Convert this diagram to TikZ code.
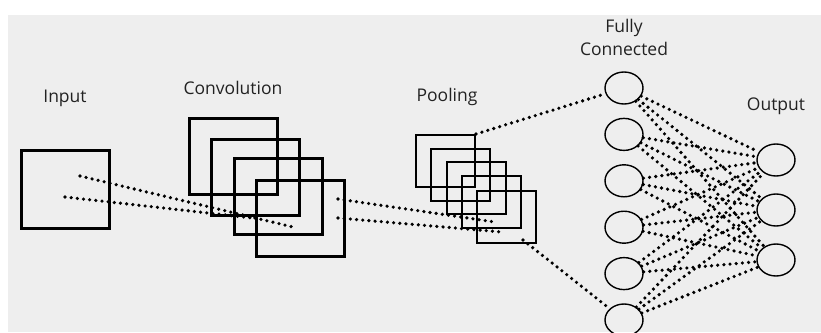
\documentclass[tikz,border=0pt]{standalone}
\usepackage{fontspec}
\setmainfont{Open Sans}
\usetikzlibrary{shapes.geometric}
\definecolor{bggray}{HTML}{EEEEEE}
\definecolor{txtgray}{HTML}{222222}
\tikzset{
  lbl/.style={text=txtgray, font=\fontsize{17.5}{23}\selectfont, inner sep=0pt, align=center},
  convbox/.style={draw, line width=3pt, minimum width=88pt, minimum height=76pt, inner sep=0pt},
  inbox/.style={draw, line width=3pt, minimum width=88pt, minimum height=78pt, inner sep=0pt},
  poolbox/.style={draw, line width=2pt, minimum width=59pt, minimum height=52pt, inner sep=0pt},
  neuron/.style={draw, ellipse, line width=1.4pt, minimum width=38pt, minimum height=32pt, inner sep=0pt},
  dots/.style={line width=3.6pt, line cap=round, dash pattern=on 0pt off 6.2pt}
}
\begin{document}
\begin{tikzpicture}[x=1pt,y=-1pt]
\useasboundingbox (0,0) rectangle (821,332);
\fill[bggray] (8,15) rectangle (821,332);
% labels
\node[lbl] (linput) at (65,98) {Input};
\node[lbl] (lconv) at (233,88) {Convolution};
\node[lbl] (lpool) at (447,97) {Pooling};
\node[lbl] (lfc) at (624,37) {Fully\\Connected};
\node[lbl] (lout) at (776,106) {Output};
% input
\node[inbox] (in) at (65,189) {};
% convolution boxes
\node[convbox] (c1) at (233,156) {};
\node[convbox] (c2) at (255,177.5) {};
\node[convbox] (c3) at (278,196.5) {};
\node[convbox] (c4) at (300.5,218.5) {};
% pooling boxes
\node[poolbox] (p1) at (445.5,161) {};
\node[poolbox] (p2) at (460.5,175) {};
\node[poolbox] (p3) at (476,187.5) {};
\node[poolbox] (p4) at (491.5,202) {};
\node[poolbox] (p5) at (506.5,217) {};
% coordinates for free ends
\coordinate (a1) at (80,176);
\coordinate (a2) at (293,227);
\coordinate (b1) at (65,197);
\coordinate (b2) at (262,219);
\coordinate (d1) at (338,199);
\coordinate (d2) at (495,222);
\coordinate (e1) at (338,218);
\coordinate (e2) at (502,232);
\coordinate (g1) at (523,240);
% fully connected
\foreach \i/\y in {1/88,2/134.4,3/180.8,4/227.2,5/273.6,6/320}
  \node[neuron] (f\i) at (624,\y) {};
% output
\foreach \i/\y in {1/160,2/210,3/260}
  \node[neuron] (o\i) at (776,\y) {};
% dotted connectors
\draw[dots] (a1) -- (a2);
\draw[dots] (b1) -- (b2);
\draw[dots] (d1) -- (d2);
\draw[dots] (e1) -- (e2);
\draw[dots] (p1.north east) -- (f1);
\draw[dots] (g1) -- (f6);
\foreach \i in {1,...,6}
  \foreach \j in {1,2,3}
    \draw[dots] (f\i) -- (o\j);
\end{tikzpicture}
\end{document}
